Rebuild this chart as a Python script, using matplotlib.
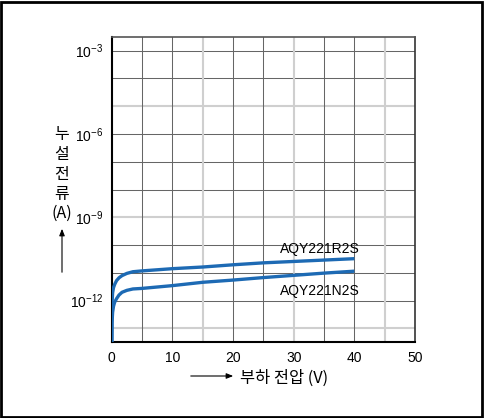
import numpy as np
import matplotlib
matplotlib.use('Agg')
import matplotlib.pyplot as plt
from matplotlib.patches import Rectangle
from matplotlib.ticker import FixedLocator, FuncFormatter

plt.rcParams['font.family'] = ['Liberation Sans', 'DejaVu Sans']
plt.rcParams['mathtext.fontset'] = 'custom'
plt.rcParams['mathtext.rm'] = 'Liberation Sans'
plt.rcParams['mathtext.it'] = 'Liberation Sans'

# ---- data ----
voltage = [0, 0.05, 0.15, 0.3, 0.5, 0.8, 1.2, 1.7, 2.5, 3.5, 5, 10, 15, 20, 25, 30, 35, 40]
log_leak_r2s = [-14.0, -12.1, -11.72, -11.53, -11.41, -11.28, -11.18, -11.1, -11.02, -10.96,
                -10.93, -10.85, -10.79, -10.71, -10.64, -10.59, -10.54, -10.49]
log_leak_n2s = [-14.0, -12.8, -12.42, -12.2, -12.05, -11.93, -11.8, -11.7, -11.63, -11.58,
                -11.56, -11.46, -11.34, -11.26, -11.17, -11.09, -11.01, -10.94]
series_names = ['AQY221R2S', 'AQY221N2S']
x_ticks = [0, 10, 20, 30, 40, 50]
y_label_exps = [-3, -6, -9, -12]
y_label_chars = ['누', '설', '전', '류', '(A)']
x_label = '부하 전압 (V)'

W, H = 485, 418
fig = plt.figure(figsize=(W / 100, H / 100), dpi=100)
ax = fig.add_axes([111.7 / W, 1 - 342.3 / H, (415 - 111.7) / W, (342.3 - 36.7) / H])

ax.set_yscale('log')
ax.set_xlim(0, 50)
ax.set_ylim(10 ** -13.5, 10 ** -2.5)

# grid
dark = '#666666'
light = '#cfcfcf'
for e in range(-13, -2):
    if e in (-5, -9, -13):
        ax.axhline(10.0 ** e, color=light, lw=1.5, zorder=1)
    else:
        ax.axhline(10.0 ** e, color=dark, lw=0.75, zorder=1)
for xv in range(5, 50, 5):
    if xv in (15, 30, 45):
        ax.axvline(xv, color=light, lw=1.5, zorder=1)
    else:
        ax.axvline(xv, color=dark, lw=0.75, zorder=1)

blue = '#1d6ab4'
ax.plot(voltage, 10.0 ** np.array(log_leak_r2s), color=blue, lw=2.4, zorder=3,
        solid_capstyle='butt')
ax.plot(voltage, 10.0 ** np.array(log_leak_n2s), color=blue, lw=2.4, zorder=3,
        solid_capstyle='butt')

ax.text(34.3, 10 ** -10.13, series_names[0], ha='center', va='center', fontsize=10)
ax.text(34.3, 10 ** -11.64, series_names[1], ha='center', va='center', fontsize=10)

ax.xaxis.set_major_locator(FixedLocator(x_ticks))
ax.yaxis.set_major_locator(FixedLocator([10.0 ** e for e in y_label_exps]))
ax.yaxis.set_minor_locator(FixedLocator([]))
ax.yaxis.set_major_formatter(FuncFormatter(
    lambda v, p: r'$\mathregular{10^{%d}}$' % int(round(np.log10(v)))))
ax.tick_params(axis='both', which='both', length=0, labelsize=10)
ax.tick_params(axis='x', pad=6)
ax.tick_params(axis='y', pad=6)

for s in ['left', 'bottom']:
    ax.spines[s].set_linewidth(1.5)
    ax.spines[s].set_color('black')
for s in ['top', 'right']:
    ax.spines[s].set_linewidth(1.2)
    ax.spines[s].set_color('#333333')
ax.spines['top'].set_color('#555555')

kfont = ['Noto Sans CJK KR', 'DejaVu Sans']
# y label stacked
ys = [134, 154, 174, 194, 213]
for ch, yy in zip(y_label_chars, ys):
    fig.text(62 / W, 1 - yy / H, ch, ha='center', va='center', fontsize=11.5, family=kfont)
fig.add_artist(matplotlib.patches.FancyArrowPatch(
    (62 / W, 1 - 275 / H), (62 / W, 1 - 226 / H), transform=fig.transFigure,
    arrowstyle='-|>,head_length=4,head_width=1.6', mutation_scale=1, lw=0.8, color='black'))

# x label
fig.text(240 / W, 1 - 378 / H, x_label, ha='left', va='center', fontsize=11.8, family=kfont)
fig.add_artist(matplotlib.patches.FancyArrowPatch(
    (188 / W, 1 - 376 / H), (236 / W, 1 - 376 / H), transform=fig.transFigure,
    arrowstyle='-|>,head_length=4,head_width=1.6', mutation_scale=1, lw=0.8, color='black'))

# outer border
fig.add_artist(Rectangle((0.002, 0.003), 0.992, 0.993, transform=fig.transFigure,
                         fill=False, edgecolor='black', lw=2))

fig.savefig('out.png', dpi=100)
